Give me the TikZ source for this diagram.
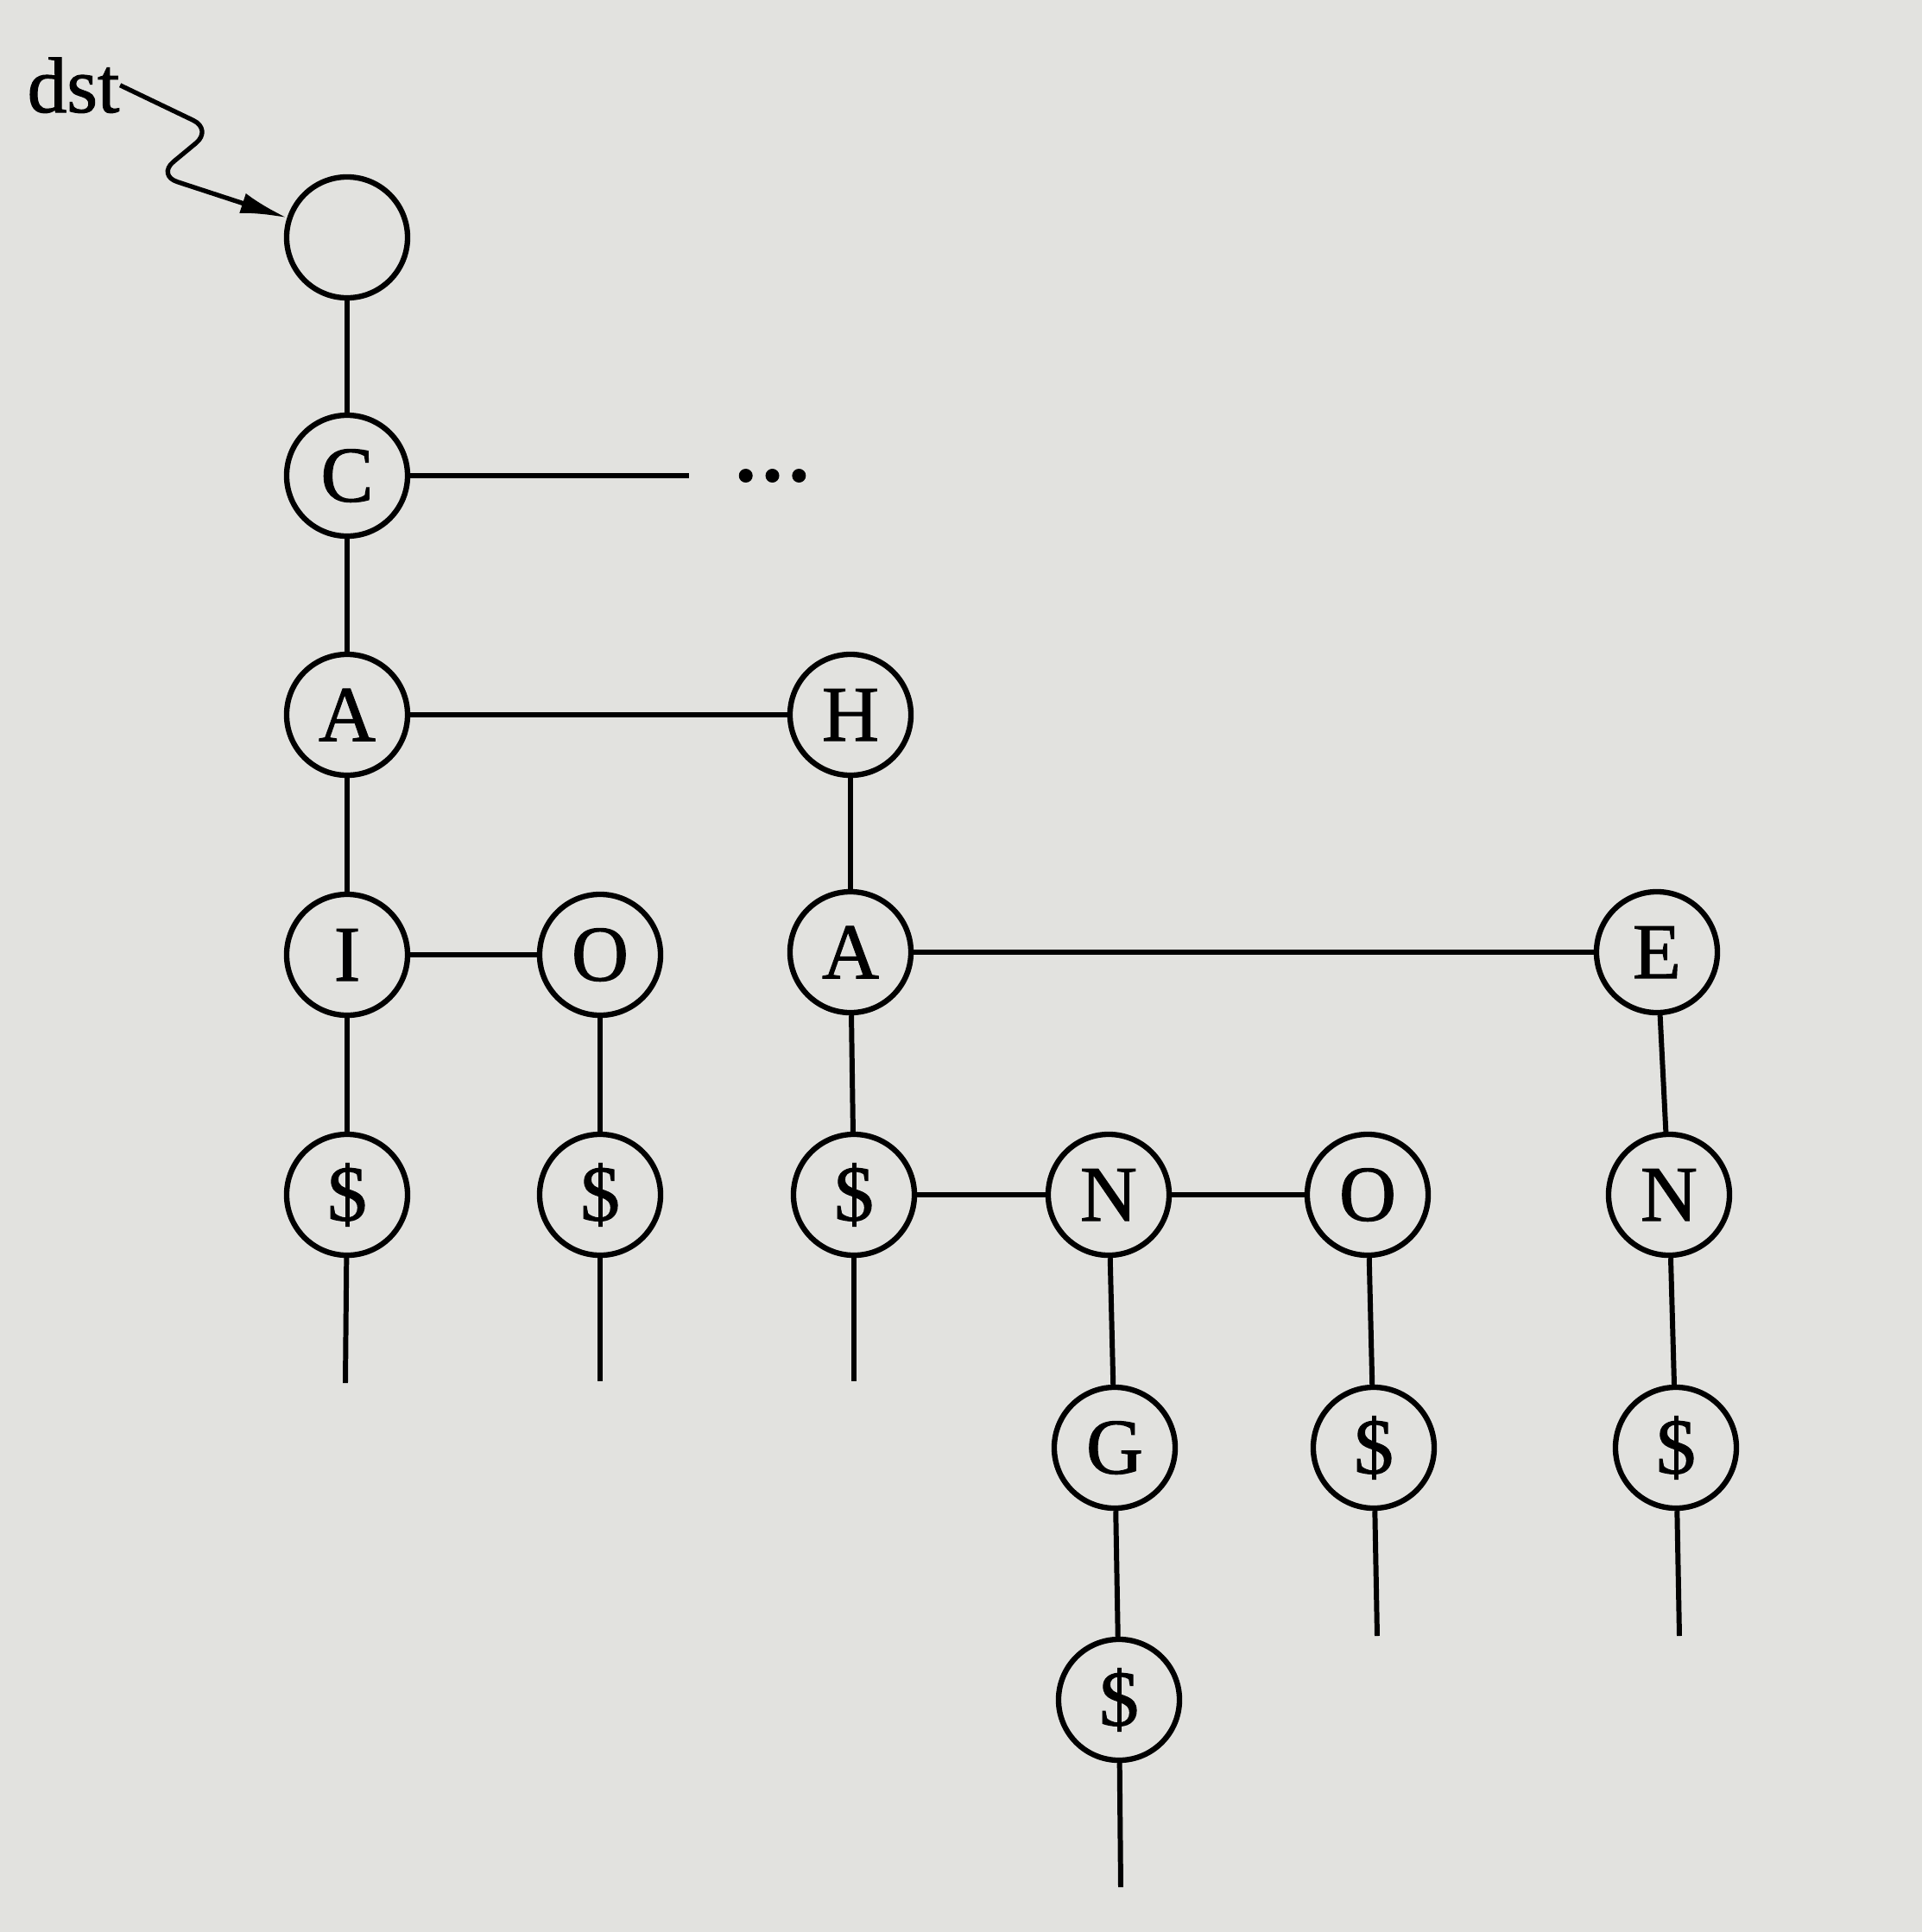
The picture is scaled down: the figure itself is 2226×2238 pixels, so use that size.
\documentclass[tikz,border=0pt]{standalone}
\usepackage{fontspec}
\setmainfont{Liberation Serif}
\newfontfamily\tinta[FakeBold=1.2]{Liberation Serif}
\usetikzlibrary{positioning,arrows.meta}
\definecolor{papel}{RGB}{226,226,223}
\tikzstyle{letra} = [draw, circle, line width=1.8pt, minimum size=1.40cm, inner sep=0pt, font=\tinta\fontsize{26}{30}\selectfont]
\tikzstyle{rama} = [line width=1.7pt]
\tikzstyle{etiqueta} = [inner sep=0pt, font=\tinta\fontsize{26}{30}\selectfont]

\begin{document}
\begin{tikzpicture}[x=0.01cm, y=-0.01cm]
	\fill[papel] (0,0) rectangle (2226,2238);
	\useasboundingbox (0,0) rectangle (2226,2238);
	% nodos del arbol
	\node[letra] (raiz) at (402,275) {};
	\node[letra] (C) at (402,551) {C};
	\node[letra] (CA) at (402,828) {A};
	\node[letra] (CH) at (985,828) {H};
	\node[letra] (CAI) at (402,1106) {I};
	\node[letra] (CAO) at (695,1106) {O};
	\node[letra] (CHA) at (985,1103) {A};
	\node[letra] (CHE) at (1919,1103) {E};
	\node[letra] (CAIs) at (402,1384) {\$};
	\node[letra] (CAOs) at (695,1384) {\$};
	\node[letra] (CHAs) at (989,1384) {\$};
	\node[letra] (CHAN) at (1284,1384) {N};
	\node[letra] (CHAO) at (1584,1384) {O};
	\node[letra] (CHEN) at (1933,1384) {N};
	\node[letra] (CHANG) at (1291,1677) {G};
	\node[letra] (CHAOs) at (1591,1677) {\$};
	\node[letra] (CHENs) at (1941,1677) {\$};
	\node[letra] (CHANGs) at (1296,1969) {\$};
	% puntero
	\node[etiqueta, anchor=base west] (dst) at (31,130) {dst};
	\draw[line width=1.5pt, rounded corners=7pt, -{Latex[length=5.4mm,width=2.4mm]}] (dst.east) -- (246,150) -- (182,203) -- (raiz);
	% ramas
	\coordinate (Cfin) at (798,551);
	\node[etiqueta, right=0.5cm of Cfin] (puntos) {\textbf{\ldots}};
	\draw[rama] (C) -- (Cfin);
	\foreach \a/\b in {raiz/C, C/CA, CA/CH, CA/CAI, CAI/CAO, CH/CHA, CHA/CHE,
		CAI/CAIs, CAO/CAOs, CHA/CHAs, CHAs/CHAN, CHAN/CHAO, CHE/CHEN,
		CHAN/CHANG, CHAO/CHAOs, CHEN/CHENs, CHANG/CHANGs}
		\draw[rama] (\a) -- (\b);
	\foreach \n/\x/\y in {CAIs/400/1602, CAOs/695/1600, CHAs/989/1600,
		CHAOs/1595/1895, CHENs/1945/1895, CHANGs/1298/2186}{
		\coordinate (\n-pie) at (\x,\y);
		\draw[rama] (\n) -- (\n-pie);
	}
\end{tikzpicture}
\end{document}
